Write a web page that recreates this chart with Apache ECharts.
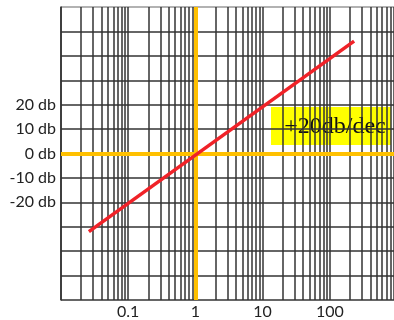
<!DOCTYPE html>
<html>
<head>
<meta charset="utf-8">
<script src="https://cdn.jsdelivr.net/npm/echarts@6/dist/echarts.min.js"></script>
<style>
  html, body { margin: 0; padding: 0; background: #fff; overflow: hidden; }
  #chart { width: 394px; height: 320px; }
</style>
</head>
<body>
<div id="chart"></div>
<script>
// 数据
const freqs = [0.026, 230];          // 频率端点
const gains = [-32, 46];             // 对应增益 (db)
const labelFreqs = [0.1, 1, 10, 100];
const dbLabels = [-20, -10, 0, 10, 20];

// 对数网格：每个十倍频程 1..9
const gridFreqs = [];
[0.01, 0.1, 1, 10, 100].forEach(d => {
    for (let k = 1; k <= 9; k++) gridFreqs.push(+(d * k).toPrecision(3));
});
gridFreqs.push(1000);

const chart = echarts.init(document.getElementById('chart'));
const gridColor = '#333';

chart.setOption({
    animation: false,
    grid: { left: 61, top: 7, width: 336, height: 293, outerBoundsMode: 'none' },
    xAxis: {
        type: 'log',
        logBase: 10,
        min: 0.01,
        max: 1000,
        axisLine: { show: true, lineStyle: { color: gridColor, width: 1.5 } },
        axisTick: { show: false, customValues: gridFreqs },
        axisLabel: {
            customValues: labelFreqs,
            formatter: v => String(labelFreqs.find(f => Math.abs(f - v) < f * 1e-6) ?? v),
            color: '#222',
            fontFamily: 'Lato',
            fontSize: 16,
            margin: 4
        },
        splitLine: { show: true, lineStyle: { color: gridColor, width: 1.5 } }
    },
    yAxis: {
        type: 'value',
        min: -60,
        max: 60,
        interval: 10,
        axisLine: { show: true, lineStyle: { color: gridColor, width: 1.5 } },
        axisTick: { show: false },
        axisLabel: {
            color: '#222',
            fontFamily: 'Lato',
            fontSize: 16,
            margin: 5,
            formatter: v => dbLabels.includes(v) ? v + ' db' : ''
        },
        splitLine: {
            show: true,
            lineStyle: {
                color: [...Array(12).fill(gridColor), '#999'],
                width: 1.5
            }
        }
    },
    graphic: [{
        type: 'group',
        left: 271,
        top: 107,
        z: 100,
        children: [{
            type: 'rect',
            shape: { x: 0, y: 0, width: 120, height: 38 },
            style: { fill: '#ffff00' }
        }, {
            type: 'text',
            x: 64,
            y: 20,
            style: {
                text: '+20db/dec',
                fill: '#111',
                font: '24px "Liberation Serif", serif',
                align: 'center',
                verticalAlign: 'middle'
            }
        }]
    }],
    series: [{
        type: 'line',
        data: [],
        z: 3,
        markLine: {
            silent: true,
            symbol: 'none',
            label: { show: false },
            lineStyle: { color: '#ffc000', width: 4, type: 'solid' },
            data: [{ yAxis: 0 }, { xAxis: 1 }]
        }
    }, {
        type: 'line',
        z: 5,
        data: freqs.map((f, i) => [f, gains[i]]),
        symbol: 'none',
        lineStyle: { color: '#f02228', width: 3.5 }
    }]
});
</script>
</body>
</html>
